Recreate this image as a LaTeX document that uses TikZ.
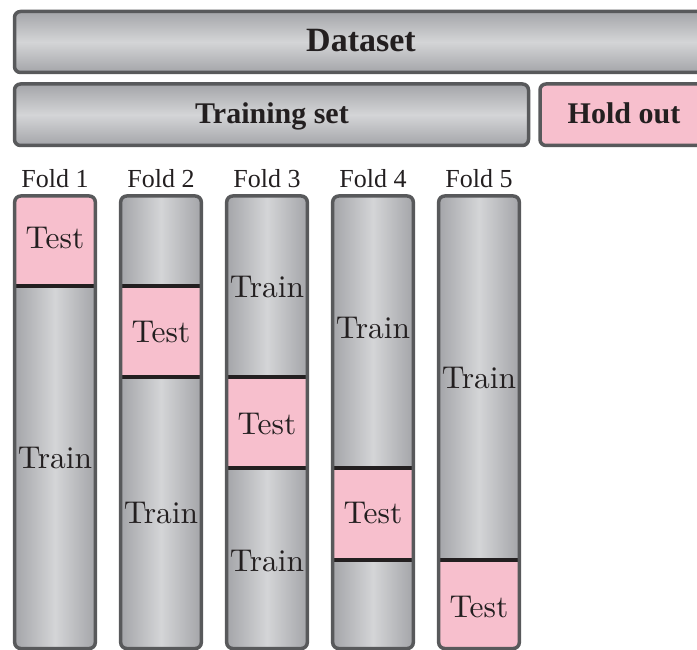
\documentclass[tikz,border=0pt]{standalone}
\usepackage{fontspec}
\newfontfamily\tnr{Liberation Serif}
\newfontfamily\lmten{lmroman10-regular.otf}
\definecolor{bord}{RGB}{88,89,91}
\definecolor{gdark}{RGB}{164,165,169}
\definecolor{glight}{RGB}{212,213,215}
\definecolor{tpink}{RGB}{247,191,205}
\definecolor{divc}{RGB}{35,31,32}
\definecolor{txt}{RGB}{35,31,32}
\begin{document}
\begin{tikzpicture}[x=1pt,y=-1pt,
  hbox/.style={draw=bord,line width=3.5pt,rounded corners=6pt,top color=gdark,bottom color=gdark,middle color=glight},
  pbox/.style={draw=bord,line width=3.5pt,rounded corners=6pt,fill=tpink},
  colshade/.style={left color=gdark,right color=gdark,middle color=glight},
  colframe/.style={draw=bord,line width=3.5pt,rounded corners=6pt},
  divline/.style={draw=divc,line width=4pt},
  headtext/.style={font=\tnr\bfseries\fontsize{30}{30}\selectfont,text=txt,anchor=base,inner sep=0pt},
  foldtext/.style={font=\tnr\fontsize{26}{26}\selectfont,text=txt,inner sep=0pt},
  segtext/.style={font=\lmten\fontsize{31.5}{31.5}\selectfont,text=txt,inner sep=0pt}]
\useasboundingbox (0,0) rectangle (697,650);
\clip (0,0) rectangle (697,650);
% top boxes
\path[hbox] (14.5,11.5) rectangle (712,72.5);
\node[headtext,font=\tnr\bfseries\fontsize{34}{34}\selectfont] (dataset) at (361,51.7) {Dataset};
\path[hbox] (14.5,84) rectangle (528.5,145.5);
\node[headtext] (trainset) at (272,123.3) {Training set};
\path[pbox] (540,84) rectangle (712,145.5);
\node[headtext] (holdout) at (624,123.3) {Hold out};
% fold labels
\node[foldtext] (f1) at (55,179) {Fold 1};
\node[foldtext] (f2) at (161,179) {Fold 2};
\node[foldtext] (f3) at (267,179) {Fold 3};
\node[foldtext] (f4) at (373,179) {Fold 4};
\node[foldtext] (f5) at (479,179) {Fold 5};
% columns
\foreach \xl/\ta/\tb in {14.7/196/286, 120.7/286/377.2, 226.7/377.2/468.4, 332.7/468.4/559.6, 438.7/559.6/648.5}{
  \begin{scope}
    \clip[rounded corners=6pt] (\xl,196) rectangle ++(80.6,452.5);
    \shade[colshade] (\xl,196) rectangle ++(80.6,452.5);
    \fill[tpink] (\xl,\ta) rectangle ++(80.6,{\tb-\ta});
  \end{scope}
}
% dividers
\draw[divline] (14.7,286) -- (95.3,286);
\draw[divline] (120.7,286) -- (201.3,286);
\draw[divline] (120.7,377.2) -- (201.3,377.2);
\draw[divline] (226.7,377.2) -- (307.3,377.2);
\draw[divline] (226.7,468.4) -- (307.3,468.4);
\draw[divline] (332.7,468.4) -- (413.3,468.4);
\draw[divline] (332.7,559.6) -- (413.3,559.6);
\draw[divline] (438.7,559.6) -- (519.3,559.6);
% frames
\foreach \xl in {14.7,120.7,226.7,332.7,438.7}{
  \path[colframe] (\xl,196) rectangle ++(80.6,452.5);
}
% segment labels
\node[segtext] (t1) at (55,238) {Test};
\node[segtext] (t2) at (161,332) {Test};
\node[segtext] (t3) at (267,424) {Test};
\node[segtext] (t4) at (373,513) {Test};
\node[segtext] (t5) at (479,607) {Test};
\node[segtext] (r1) at (55,458) {Train};
\node[segtext] (r2) at (161,513) {Train};
\node[segtext] (r3a) at (267,287) {Train};
\node[segtext] (r3b) at (267,561) {Train};
\node[segtext] (r4) at (373,328) {Train};
\node[segtext] (r5) at (479,378) {Train};
\end{tikzpicture}
\end{document}
